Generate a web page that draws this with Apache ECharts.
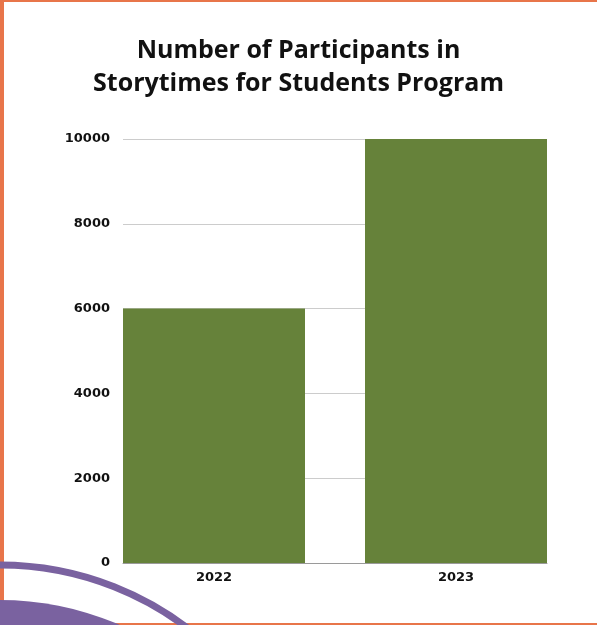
<!DOCTYPE html>
<html>
<head>
<meta charset="utf-8">
<script src="https://cdn.jsdelivr.net/npm/echarts@6/dist/echarts.min.js"></script>
<style>
  html, body { margin: 0; padding: 0; background: #fff; }
  #chart { width: 597px; height: 625px; }
</style>
</head>
<body>
<div id="chart"></div>
<script>
const categories = ['2022', '2023']
const participants = [6000, 10000]
const yTicks = [0, 2000, 4000, 6000, 8000, 10000]

const orange = '#E8754A'
const purple = '#7A62A0'
const green = '#66823A'
const titleFont = 'Open Sans'
const labelFont = 'DejaVu Sans'

const chart = echarts.init(document.getElementById('chart'))

chart.setOption({
  backgroundColor: '#fff',
  animation: false,
  title: {
    text: 'Number of Participants in\nStorytimes for Students Program',
    left: 'center',
    top: 29,
    textStyle: {
      fontFamily: titleFont,
      fontWeight: 'bold',
      fontSize: 25,
      lineHeight: 33,
      color: '#111'
    }
  },
  grid: [
    // bars grid: wider so bars sit flush with the gridline ends
    { left: 93, right: 20, top: 139, bottom: 62 },
    // gridlines / y labels grid
    { left: 123, right: 50, top: 139, bottom: 62 }
  ],
  xAxis: [{
    gridIndex: 0,
    type: 'category',
    data: categories,
    axisLine: { show: false },
    axisTick: { show: false },
    axisLabel: {
      margin: 8,
      fontFamily: labelFont,
      fontWeight: 'bold',
      fontSize: 13,
      color: '#111'
    }
  }, {
    gridIndex: 1,
    type: 'category',
    data: categories,
    axisLine: { show: true, lineStyle: { color: '#9a9a9a', width: 1 } },
    axisTick: { show: false },
    axisLabel: { show: false }
  }],
  yAxis: [{
    gridIndex: 0,
    type: 'value',
    min: yTicks[0],
    max: yTicks[yTicks.length - 1],
    interval: 2000,
    show: false
  }, {
    gridIndex: 1,
    type: 'value',
    min: yTicks[0],
    max: yTicks[yTicks.length - 1],
    interval: 2000,
    axisLine: { show: false },
    axisTick: { show: false },
    splitLine: { lineStyle: { color: '#cccccc', width: 1 } },
    axisLabel: {
      margin: 13,
      padding: [3, 0, 0, 0],
      formatter: v => String(v),
      fontFamily: labelFont,
      fontWeight: 'bold',
      fontSize: 13,
      color: '#111'
    }
  }],
  series: [{
    type: 'bar',
    xAxisIndex: 0,
    yAxisIndex: 0,
    data: participants,
    barWidth: 182,
    itemStyle: { color: green },
    z: 3
  }],
  graphic: [
    // page frame and corner decoration
    { type: 'rect', shape: { x: 0, y: 0, width: 597, height: 2 }, style: { fill: orange }, z: 1 },
    { type: 'rect', shape: { x: 0, y: 0, width: 4, height: 625 }, style: { fill: orange }, z: 1 },
    { type: 'rect', shape: { x: 0, y: 623, width: 597, height: 2 }, style: { fill: orange }, z: 1 },
    { type: 'circle', shape: { cx: 0, cy: 875, r: 310 }, style: { fill: 'none', stroke: purple, lineWidth: 7 }, z: 10 },
    { type: 'circle', shape: { cx: 0, cy: 900, r: 300 }, style: { fill: purple }, z: 10 }
  ]
})
</script>
</body>
</html>
